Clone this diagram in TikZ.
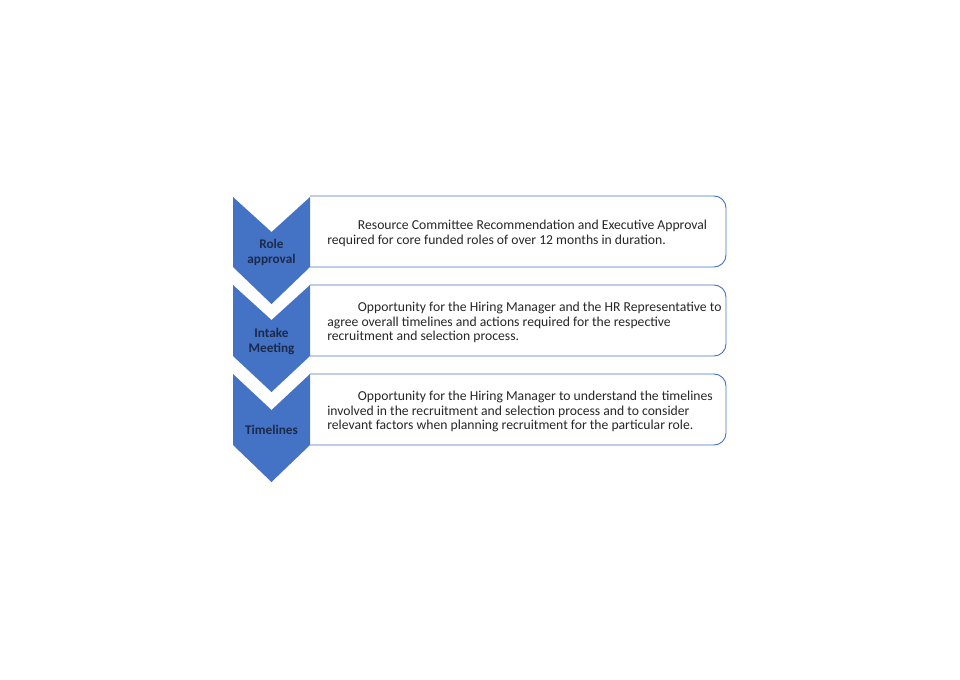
\documentclass[tikz,border=0pt]{standalone}
\usepackage{fontspec}
\setmainfont{Carlito}
\definecolor{chevblue}{HTML}{4472C4}
\definecolor{labelnavy}{HTML}{1B2A4A}
\definecolor{bodytext}{HTML}{262626}
\tikzset{
  stepbox/.style={draw=chevblue, line width=0.7pt, rounded corners=9pt},
  stepchev/.style={fill=chevblue},
  steplabel/.style={font=\fontsize{9.9}{11.2}\selectfont\bfseries, text=labelnavy, align=center, inner sep=0pt},
  steptext/.style={anchor=west, font=\fontsize{10.25}{11.1}\selectfont, text=bodytext, align=left, inner sep=0pt}
}

\begin{document}
\begin{tikzpicture}[x=0.75pt,y=-0.75pt]
\useasboundingbox (0,0) rectangle (960,679);
% boxes on the right
\draw[stepbox] (310,196) -- (726,196) -- (726,267) -- (310,267);
\draw[stepbox] (310,285) -- (726,285) -- (726,356) -- (310,356);
\draw[stepbox] (310,374) -- (726,374) -- (726,445) -- (310,445);
% chevrons
\fill[stepchev] (233,197) -- (271.5,232) -- (310,197) -- (310,267) -- (271.5,304) -- (233,267) -- cycle;
\fill[stepchev] (233,285) -- (271.5,320) -- (310,285) -- (310,356) -- (271.5,392) -- (233,356) -- cycle;
\fill[stepchev] (233,374) -- (271.5,410) -- (310,374) -- (310,445) -- (271.5,482) -- (233,445) -- cycle;
% labels
\node[steplabel] (role) at (271.5,252.5) {Role\\approval};
\node[steplabel] (intake) at (271.5,341.5) {Intake\\Meeting};
\node[steplabel] (timelines) at (271.5,430) {Timelines};
% descriptions
\node[steptext] (roletext) at (327,233) {\hspace*{23pt}Resource Committee Recommendation and Executive Approval\\required for core funded roles of over 12 months in duration.};
\node[steptext] (intaketext) at (327,322.5) {\hspace*{23pt}Opportunity for the Hiring Manager and the HR Representative to\\agree overall timelines and actions required for the respective\\recruitment and selection process.};
\node[steptext] (timelinestext) at (327,411.5) {\hspace*{23pt}Opportunity for the Hiring Manager to understand the timelines\\involved in the recruitment and selection process and to consider\\relevant factors when planning recruitment for the particular role.};
\end{tikzpicture}
\end{document}
